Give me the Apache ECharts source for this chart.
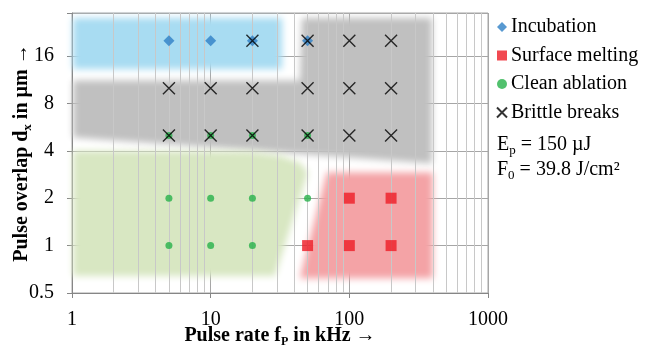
<!DOCTYPE html>
<html><head><meta charset="utf-8">
<script src="https://cdn.jsdelivr.net/npm/echarts@6/dist/echarts.min.js"></script>
<style>html,body{margin:0;padding:0;background:#fff}#c{width:646px;height:347px}</style>
</head><body><div id="c"></div>
<script>
// ---- data ----
const incubation = [[5,20],[10,20],[20,20],[50,20]];
const surfaceMelting = [[100,2],[200,2],[50,1],[100,1],[200,1]];
const cleanAblation = [[5,5],[10,5],[20,5],[50,5],[5,2],[10,2],[20,2],[50,2],[5,1],[10,1],[20,1]];
const brittleBreaks = [[20,20],[50,20],[100,20],[200,20],
  [5,10],[10,10],[20,10],[50,10],[100,10],[200,10],
  [5,5],[10,5],[20,5],[50,5],[100,5],[200,5]];
const minorX = [2,3,4,5,6,7,8,9,20,30,40,50,60,70,80,90,200,300,400,500,600,700,800,900];
const blueRegion = [[1.02,27.8],[32.6,27.8],[32.6,13.3],[1.02,13.3]];
const grayRegion = [[1.02,11.2],[44,11.2],[45.5,27.9],[394,27.9],[394,3.32],[1.02,4.86]];
const greenRegion = [[1.02,4.0],[19.2,3.96],[31.6,3.73],[44,3.37],[50.3,2.91],[29.1,0.641],[1.02,0.641]];
const redRegion = [[68.9,2.91],[400,2.91],[400,0.62],[44,0.62]];
const regions = [blueRegion, grayRegion, greenRegion, redRegion];
const regionColors = ['#a8dcf2','#c0c0c0','#d8e7c2','#f4a3a6'];

const FONT = '"Liberation Serif","Times New Roman",serif';
const chart = echarts.init(document.getElementById('c'), null, {renderer:'canvas'});
const OFF = 3000;
const option = {
  animation: false,
  grid: {left:72, right:158, top:13, bottom:54, containLabel:false, outerBoundsMode:'none',
    show:true, borderColor:'#a6a6a6', borderWidth:1},
  xAxis: {
    type:'log', logBase:10, min:1, max:1000,
    name:'{m|Pulse rate f}{s|P}{m| in kHz →}', nameLocation:'middle', nameGap:31, nameMoveOverlap:false,
    nameTextStyle:{rich:{
      m:{fontFamily:FONT, fontWeight:'bold', fontSize:20, lineHeight:24, color:'#000'},
      s:{fontFamily:FONT, fontWeight:'bold', fontSize:12, lineHeight:12, verticalAlign:'bottom', color:'#000'}}},
    axisLine:{show:true, lineStyle:{color:'#868686'}},
    axisTick:{show:true, inside:false, length:5, lineStyle:{color:'#868686'}},
    axisLabel:{fontFamily:FONT, fontSize:20, color:'#000', margin:17, formatter: v => String(Math.round(v))},
    splitLine:{show:true, lineStyle:{color:'#a6a6a6', width:1}}
  },
  yAxis: {
    type:'log', logBase:2, min:0.5, max:30,
    name:'{m|Pulse overlap d}{s|x}{m| in µm →}', nameLocation:'middle', nameGap:38, nameMoveOverlap:false,
    nameTextStyle:{rich:{
      m:{fontFamily:FONT, fontWeight:'bold', fontSize:20, lineHeight:24, color:'#000'},
      s:{fontFamily:FONT, fontWeight:'bold', fontSize:13, lineHeight:13, verticalAlign:'bottom', color:'#000'}}},
    axisLine:{show:true, lineStyle:{color:'#868686'}},
    axisTick:{show:true, inside:false, length:5, lineStyle:{color:'#868686'}},
    axisLabel:{fontFamily:FONT, fontSize:20, color:'#000', margin:18,
      formatter: v => { const l = Math.log2(v); return Math.abs(l-Math.round(l))<1e-6 ? String(+v.toPrecision(6)) : ''; }},
    splitLine:{show:true, lineStyle:{color:'#a6a6a6', width:1}}
  },
  legend: {
    orient:'vertical', left:491, top:12, itemGap:8.5, itemWidth:10, itemHeight:10,
    textStyle:{fontFamily:FONT, fontSize:20, color:'#000', padding:[0,0,0,-1]},
    data:['Incubation','Surface melting','Clean ablation','Brittle breaks']
  },
  graphic: [
    {type:'text', left:497, top:135, style:{text:'{m|E}{s|p}{m| = 150 µJ}', rich:{
      m:{fontFamily:FONT, fontSize:20, lineHeight:24, fill:'#000'},
      s:{fontFamily:FONT, fontSize:13, lineHeight:13, verticalAlign:'bottom', fill:'#000'}}}},
    {type:'text', left:497, top:160, style:{text:'{m|F}{s|0}{m| = 39.8 J/cm²}', rich:{
      m:{fontFamily:FONT, fontSize:20, lineHeight:24, fill:'#000'},
      s:{fontFamily:FONT, fontSize:13, lineHeight:13, verticalAlign:'bottom', fill:'#000'}}}}
  ],
  series: [
    {
      type:'line', data:[], silent:true, z:1,
      markLine:{silent:true, symbol:['none','none'], label:{show:false},
        lineStyle:{color:'#c8c8c8', width:1, type:'solid'},
        data: minorX.map(v => ({xAxis:v}))}
    },
    {
      type:'custom', silent:true, z:2, clip:false,
      data: regions.map((r,i)=>[i]),
      renderItem: (params, api) => {
        const i = params.dataIndex;
        const pts = regions[i].map(p => { const c = api.coord(p); return [c[0]-OFF, c[1]]; });
        return {type:'polygon', shape:{points:pts},
          style:{fill:regionColors[i], shadowColor:regionColors[i], shadowBlur:7, shadowOffsetX:OFF, shadowOffsetY:0}};
      }
    },
    {name:'Incubation', type:'scatter', z:5, data:incubation, symbol:'diamond', symbolSize:[11,11],
      itemStyle:{color:'#2e7fc6'}},
    {name:'Surface melting', type:'scatter', z:5, data:surfaceMelting, symbol:'rect', symbolSize:11,
      itemStyle:{color:'#ee1c25'}},
    {name:'Clean ablation', type:'scatter', z:5, data:cleanAblation, symbol:'circle', symbolSize:7,
      itemStyle:{color:'#27b24a'}},
    {name:'Brittle breaks', type:'scatter', z:6, data:brittleBreaks, symbol:'path://M0 0L10 10M10 0L0 10', symbolSize:12,
      itemStyle:{color:'rgba(0,0,0,0)', borderColor:'#000', borderWidth:1.4}}
  ]
};
chart.setOption(option);
</script></body></html>
